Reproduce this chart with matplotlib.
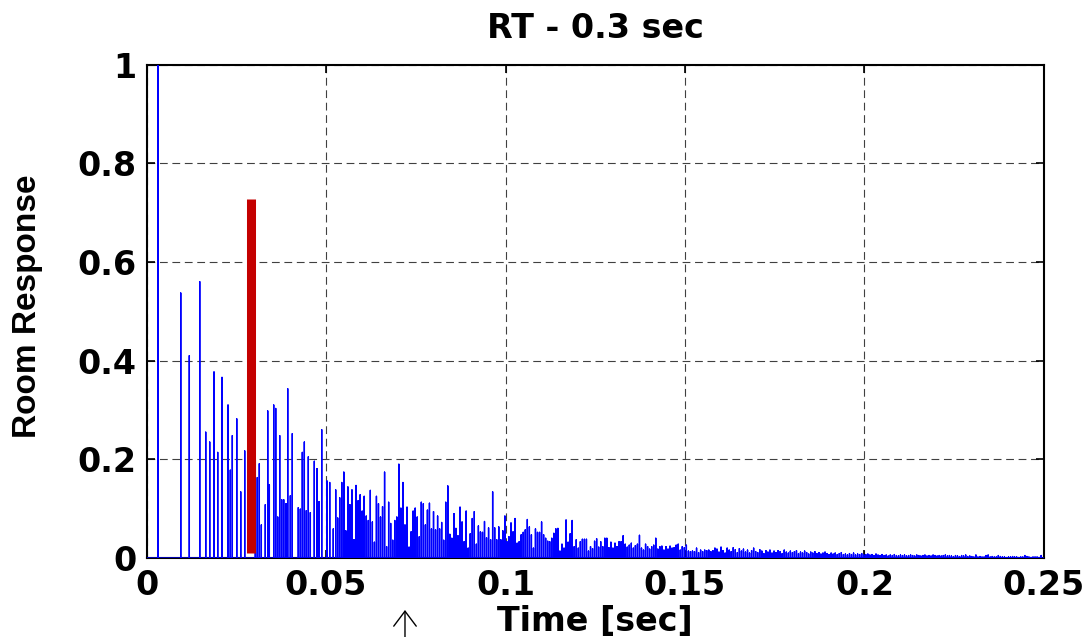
import matplotlib
matplotlib.use("Agg")
import matplotlib.pyplot as plt
import numpy as np

# direct sound + early reflections (time [sec], amplitude)
early_t = [0.0032, 0.00953, 0.01192, 0.01482, 0.01649, 0.01760, 0.01880, 0.01983,
           0.02103, 0.02270, 0.02334, 0.02390, 0.02513, 0.02624, 0.02735, 0.03031,
           0.03086, 0.03142, 0.03198, 0.03309, 0.03376, 0.03421, 0.03543, 0.03599,
           0.03655, 0.03710, 0.03766, 0.03822, 0.03886, 0.03933, 0.04006, 0.04061,
           0.04228, 0.04284, 0.04340, 0.04396, 0.04451, 0.04507, 0.04563, 0.04674,
           0.04749, 0.04805, 0.04880, 0.05028, 0.05103, 0.05203, 0.05270, 0.05326]
early_h = [1.000, 0.537, 0.410, 0.560, 0.255, 0.235, 0.377, 0.214,
           0.366, 0.310, 0.178, 0.248, 0.282, 0.134, 0.217, 0.199,
           0.163, 0.191, 0.067, 0.108, 0.298, 0.148, 0.310, 0.303,
           0.083, 0.248, 0.118, 0.118, 0.110, 0.343, 0.126, 0.252,
           0.102, 0.099, 0.214, 0.235, 0.096, 0.205, 0.092, 0.196,
           0.181, 0.114, 0.260, 0.156, 0.153, 0.059, 0.138, 0.081]

# late reverberation, sampled every tail_dt seconds from tail_t0
tail_t0 = 0.05382
tail_dt = 0.000568
tail_h = [0.122, 0.153, 0.174, 0.055, 0.144, 0.108, 0.138, 0.037, 0.147, 0.116,
          0.128, 0.095, 0.125, 0.085, 0.076, 0.137, 0.073, 0.032, 0.125, 0.110,
          0.083, 0.104, 0.174, 0.023, 0.113, 0.070, 0.036, 0.076, 0.083, 0.190,
          0.101, 0.153, 0.067, 0.103, 0.022, 0.053, 0.095, 0.101, 0.083, 0.043,
          0.113, 0.110, 0.067, 0.097, 0.111, 0.059, 0.094, 0.057, 0.085, 0.059,
          0.072, 0.036, 0.113, 0.146, 0.048, 0.040, 0.090, 0.060, 0.045, 0.103,
          0.073, 0.033, 0.095, 0.020, 0.049, 0.080, 0.094, 0.028, 0.065, 0.053,
          0.052, 0.074, 0.041, 0.061, 0.037, 0.134, 0.061, 0.037, 0.063, 0.037,
          0.055, 0.085, 0.033, 0.043, 0.071, 0.053, 0.080, 0.030, 0.033, 0.047,
          0.052, 0.057,
          0.078, 0.063, 0.047, 0.020, 0.059, 0.052, 0.052, 0.073, 0.047, 0.040,
          0.034, 0.033, 0.040, 0.050, 0.059, 0.060, 0.014, 0.028, 0.020, 0.077,
          0.032, 0.049, 0.076, 0.023, 0.037, 0.020, 0.033, 0.038, 0.038, 0.038,
          0.014, 0.023, 0.019, 0.034, 0.039, 0.022, 0.033, 0.023, 0.040, 0.040,
          0.021, 0.032, 0.020, 0.030, 0.023, 0.033, 0.033, 0.045, 0.028, 0.022,
          0.026, 0.030, 0.020, 0.025, 0.028, 0.046, 0.020, 0.016, 0.028, 0.023,
          0.018, 0.023, 0.026, 0.040, 0.018, 0.023, 0.024, 0.016, 0.023, 0.018,
          0.024, 0.020, 0.021, 0.026, 0.028, 0.016, 0.023, 0.021, 0.026, 0.014,
          0.013, 0.014, 0.013, 0.020, 0.011, 0.016, 0.013, 0.016, 0.015, 0.016,
          0.013, 0.015, 0.020,
          0.018, 0.012, 0.022, 0.015, 0.010, 0.020, 0.016, 0.013, 0.021, 0.017,
          0.011, 0.019, 0.014, 0.018, 0.012, 0.016, 0.010, 0.015, 0.020, 0.013,
          0.011, 0.017, 0.014, 0.009, 0.015, 0.012, 0.016, 0.010, 0.014, 0.011,
          0.015, 0.013, 0.009, 0.016, 0.012, 0.010, 0.014, 0.011, 0.013, 0.015,
          0.009, 0.012, 0.010, 0.014, 0.011, 0.008, 0.012, 0.010, 0.013, 0.009,
          0.011, 0.008, 0.010, 0.012, 0.009, 0.007, 0.010,
          0.008, 0.010, 0.007, 0.009, 0.011, 0.007, 0.008, 0.006, 0.009, 0.007,
          0.010, 0.006, 0.008, 0.007, 0.009, 0.006, 0.007, 0.008, 0.006, 0.007,
          0.005, 0.008,
          0.006, 0.005, 0.007, 0.005, 0.006, 0.004, 0.006, 0.005, 0.007, 0.005,
          0.004, 0.006, 0.005, 0.006, 0.004, 0.005, 0.006, 0.005, 0.004, 0.006,
          0.005, 0.004, 0.005, 0.006, 0.004, 0.005, 0.004, 0.006, 0.005, 0.004,
          0.005, 0.004, 0.005, 0.006, 0.004, 0.005, 0.004, 0.003, 0.005, 0.004,
          0.003, 0.005, 0.004, 0.006, 0.003, 0.004,
          0.003, 0.002, 0.006, 0.002, 0.003, 0.002, 0.002, 0.005, 0.006, 0.002,
          0.003, 0.002, 0.002, 0.005, 0.003, 0.002, 0.002, 0.001, 0.002, 0.002,
          0.003, 0.002, 0.002, 0.001, 0.002, 0.002, 0.005, 0.003, 0.002, 0.001,
          0.002, 0.002, 0.002, 0.001, 0.005]

# marker bar
bar_t = 0.0290
bar_lo = 0.011
bar_hi = 0.728
arrow_t = 0.072

xticks = [0, 0.05, 0.1, 0.15, 0.2, 0.25]
xticklabels = ['0', '0.05', '0.1', '0.15', '0.2', '0.25']
yticks = [0, 0.2, 0.4, 0.6, 0.8, 1]
yticklabels = ['0', '0.2', '0.4', '0.6', '0.8', '1']

plt.rcParams['font.family'] = ['DejaVu Sans']
plt.rcParams['font.weight'] = 'bold'

t = np.concatenate([early_t, tail_t0 + tail_dt * np.arange(len(tail_h))])
h = np.concatenate([early_h, tail_h])

# every reflection drawn as a spike rising from zero and back
xs = np.repeat(t, 3)
ys = np.zeros_like(xs)
ys[1::3] = h

fig = plt.figure(figsize=(10.91, 6.37), dpi=100)
ax = fig.add_axes([0.1343, 0.1240, 0.8226, 0.7747])

ax.plot(np.concatenate([[0], xs, [0.25]]), np.concatenate([[0], ys, [0]]),
        color='#0000FF', lw=1.0, zorder=3)
ax.vlines(bar_t, bar_lo, bar_hi, color='#C40000', lw=6.5, zorder=4)

ax.set_xlim(0, 0.25)
ax.set_ylim(0, 1)
ax.set_xticks(xticks)
ax.set_xticklabels(xticklabels)
ax.set_yticks(yticks)
ax.set_yticklabels(yticklabels)
ax.tick_params(direction='in', length=6, width=1.2, labelsize=24,
               top=True, right=True)
ax.tick_params(axis='x', pad=8)
ax.tick_params(axis='y', pad=7)
for lab in ax.get_xticklabels() + ax.get_yticklabels():
    lab.set_fontweight('bold')
for s in ax.spines.values():
    s.set_linewidth(1.5)
ax.grid(True, color='#404040', lw=0.8, linestyle=(0, (7, 4.2)))

ax.set_title('RT - 0.3 sec', fontsize=24, fontweight='bold', pad=19)
ax.set_xlabel('Time [sec]', fontsize=24, fontweight='bold', labelpad=2)
ax.set_ylabel('Room Response', fontsize=24, fontweight='bold',
              family='Liberation Sans')
ax.yaxis.set_label_coords(-0.1153, 0.511)

# little arrow under the time axis
ax.annotate('', xy=(arrow_t, 27), xycoords=('data', 'figure pixels'),
            xytext=(arrow_t, 0), textcoords=('data', 'figure pixels'),
            arrowprops=dict(arrowstyle='->, head_length=0.6, head_width=0.45',
                            lw=1.0, color='black', mutation_scale=18,
                            shrinkA=0, shrinkB=0),
            annotation_clip=False)

fig.savefig('out.png', dpi=100)
